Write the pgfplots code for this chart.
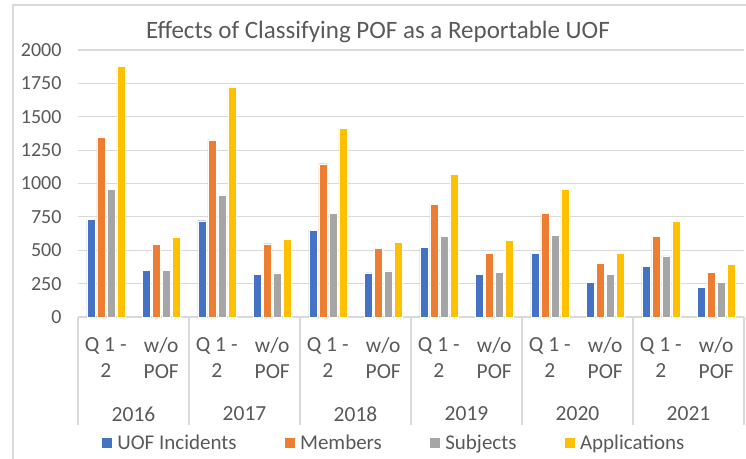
\documentclass[border=0pt]{standalone}
\usepackage{pgfplots}
\pgfplotsset{compat=1.18}
\usepackage{fontspec}
\setmainfont{Carlito}
\definecolor{txt}{HTML}{595959}
\definecolor{gridc}{HTML}{D9D9D9}
\definecolor{cblue}{HTML}{4472C4}
\definecolor{corange}{HTML}{ED7D31}
\definecolor{cgray}{HTML}{A5A5A5}
\definecolor{cyellow}{HTML}{FFC000}
\begin{document}
\begin{tikzpicture}
\path[use as bounding box] (0,0) rectangle (746pt,458pt);
\draw[gridc, line width=1.2pt] (13pt,-5pt) -- (13pt,453pt) -- (760pt,453pt);
\node[txt, font=\fontsize{25}{30}\selectfont] at (378pt,426pt) {Effects of Classifying POF as a Reportable UOF};
\begin{axis}[
  at={(78pt,141pt)}, anchor=south west,
  scale only axis, width=666pt, height=267pt,
  xmin=-0.5, xmax=11.5, ymin=0, ymax=2000,
  ytick={0,250,...,2000},
  xtick={0,...,11},
  xticklabels={{Q 1 -\\2},{w/o\\POF},{Q 1 -\\2},{w/o\\POF},{Q 1 -\\2},{w/o\\POF},{Q 1 -\\2},{w/o\\POF},{Q 1 -\\2},{w/o\\POF},{Q 1 -\\2},{w/o\\POF}},
  xticklabel style={align=center, text=txt, font=\fontsize{21.5}{26}\selectfont, yshift=-17pt},
  yticklabel style={text=txt, font=\fontsize{20}{24}\selectfont, xshift=-13pt},
  /pgf/number format/assume math mode=true,
  /pgf/number format/1000 sep={},
  major tick length=0pt,
  ymajorgrids, grid style={gridc, line width=1.2pt},
  axis line style={draw=none},
  clip=false,
  ybar=2pt, bar width=8pt,
  every axis plot/.append style={draw=white, line width=0.4pt},
  legend columns=4,
  legend style={at={(0.474,-0.472)}, anchor=center, draw=none, fill=none,
    font=\fontsize{21}{24}\selectfont, text=txt,
    /tikz/every odd column/.append style={column sep=3pt},
    /tikz/every even column/.append style={column sep=45pt}},
  legend image code/.code={\fill[#1] (0pt,-5.5pt) rectangle (11pt,5.5pt);},
]
\addplot[fill=cblue] coordinates {(0,734) (1,352) (2,721) (3,322) (4,649) (5,330) (6,522) (7,322) (8,479) (9,257) (10,382) (11,222)};
\addplot[fill=corange] coordinates {(0,1348) (1,545) (2,1326) (3,549) (4,1148) (5,514) (6,846) (7,479) (8,779) (9,402) (10,604) (11,337)};
\addplot[fill=cgray] coordinates {(0,956) (1,352) (2,914) (3,330) (4,774) (5,345) (6,604) (7,337) (8,612) (9,317) (10,457) (11,257)};
\addplot[fill=cyellow] coordinates {(0,1880) (1,601) (2,1718) (3,582) (4,1413) (5,560) (6,1069) (7,574) (8,956) (9,479) (10,714) (11,397)};
\legend{UOF Incidents, Members, Subjects, Applications}
\pgfplotsinvokeforeach{-0.5,1.5,3.5,5.5,7.5,9.5,11.5}{
  \draw[gridc, line width=1.2pt] (axis cs:#1,0) -- ++(0pt,-108pt);
}
\node[txt, font=\fontsize{21.5}{24}\selectfont] at ([yshift=-97pt]axis cs:0.5,0) {2016};
\node[txt, font=\fontsize{21.5}{24}\selectfont] at ([yshift=-97pt]axis cs:2.5,0) {2017};
\node[txt, font=\fontsize{21.5}{24}\selectfont] at ([yshift=-97pt]axis cs:4.5,0) {2018};
\node[txt, font=\fontsize{21.5}{24}\selectfont] at ([yshift=-97pt]axis cs:6.5,0) {2019};
\node[txt, font=\fontsize{21.5}{24}\selectfont] at ([yshift=-97pt]axis cs:8.5,0) {2020};
\node[txt, font=\fontsize{21.5}{24}\selectfont] at ([yshift=-97pt]axis cs:10.5,0) {2021};
\end{axis}
\end{tikzpicture}
\end{document}
